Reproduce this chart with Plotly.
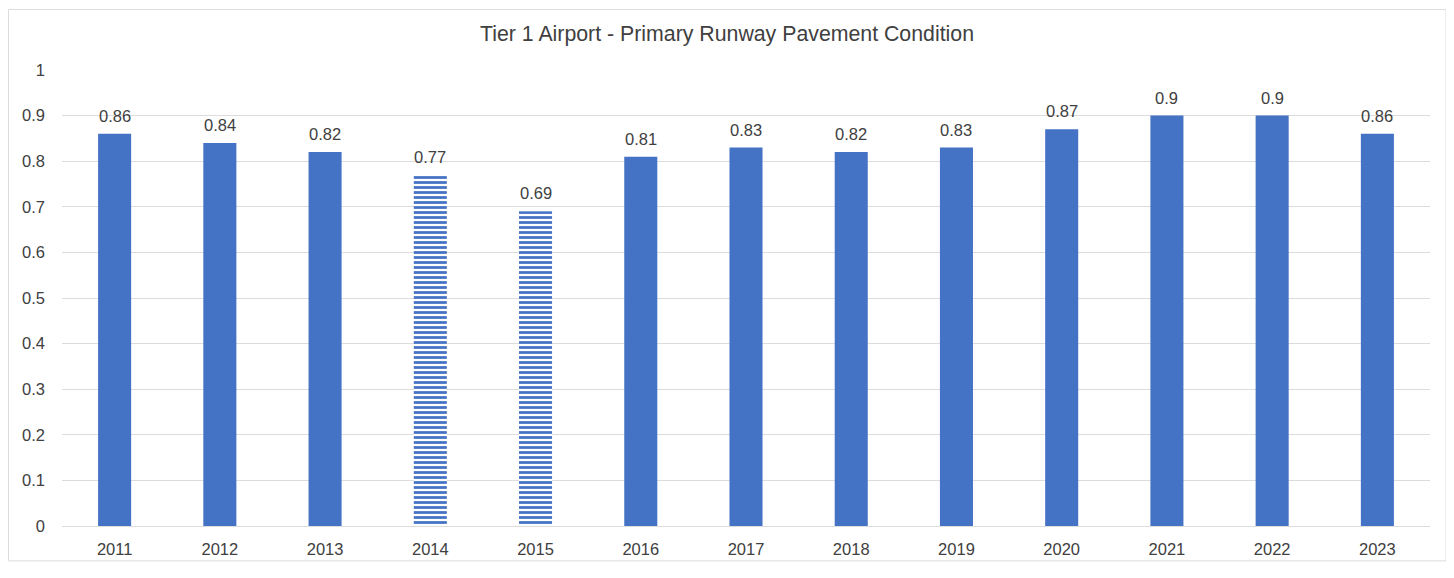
import plotly.graph_objects as go

years = ["2011", "2012", "2013", "2014", "2015", "2016", "2017", "2018", "2019", "2020", "2021", "2022", "2023"]
values = [0.86, 0.84, 0.82, 0.77, 0.69, 0.81, 0.83, 0.82, 0.83, 0.87, 0.90, 0.90, 0.86]
patterned = ["2014", "2015"]
y_ticks = [0, 0.1, 0.2, 0.3, 0.4, 0.5, 0.6, 0.7, 0.8, 0.9, 1]

BLUE = "#4472C4"
GRID = "#dcdcdc"
TXT = "#404040"
FONT = "Liberation Sans"

shapes_list = ["-" if y in patterned else "" for y in years]

fig = go.Figure(go.Bar(
    x=years, y=values,
    marker=dict(color=BLUE, line=dict(width=0),
                pattern=dict(shape=shapes_list, fgcolor=BLUE, bgcolor="white",
                             size=5, solidity=0.55, fillmode="replace")),
    hoverinfo="x+y",
))

# category axis: annotations addressed by category serial number
annotations = [dict(x=i, y=v, xref="x", yref="y", text=f"{v:g}", showarrow=False,
                    yanchor="bottom", yshift=7,
                    font=dict(size=16.5, color=TXT, family=FONT))
               for i, v in enumerate(values)]

H = 562
T, B = 62, 36
PH = H - T - B

fig.update_layout(
    width=1438, height=H,
    margin=dict(l=54, r=16, t=T, b=B),
    paper_bgcolor="white", plot_bgcolor="white",
    bargap=0.686,
    showlegend=False,
    title=dict(text="Tier 1 Airport - Primary Runway Pavement Condition",
               x=0.5, xanchor="center", y=1 - 26 / H, yanchor="middle",
               font=dict(size=21.3, color=TXT, family=FONT)),
    font=dict(family=FONT, color=TXT, size=16),
    xaxis=dict(type="category", categoryorder="array", categoryarray=years,
               showgrid=False, showline=True, linecolor=GRID, linewidth=1,
               ticks="", ticklabelstandoff=8, tickfont=dict(size=16.5, color=TXT)),
    yaxis=dict(range=[0, 1], tickvals=y_ticks, ticktext=[f"{t:g}" for t in y_ticks],
               showgrid=True, gridcolor=GRID, gridwidth=1, zeroline=False,
               showline=False, ticks="", ticklabelstandoff=16,
               tickfont=dict(size=16.5, color=TXT)),
    annotations=annotations,
    shapes=[dict(type="rect", xref="paper", yref="paper",
                 x0=-0.0391, x1=1.0117, y0=-(B - 0.5) / PH, y1=1 + (T - 0.5) / PH,
                 line=dict(color=GRID, width=1), fillcolor="rgba(0,0,0,0)", layer="below")],
)

fig.write_html("out.html")
